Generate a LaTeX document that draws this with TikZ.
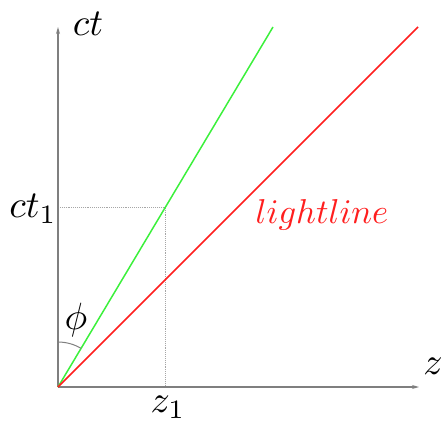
\documentclass[tikz,border=0pt]{standalone}
\usepackage{graphicx}
\usepackage{xcolor}
\usetikzlibrary{arrows.meta,positioning,calc}
\definecolor{axisgray}{HTML}{7F7F7F}
\definecolor{dotgray}{HTML}{A6A6A6}
\definecolor{worldgreen}{HTML}{3CF03C}
\definecolor{lightred}{HTML}{FF1E1E}
\newcommand{\biglbl}[1]{\scalebox{3.8}{$#1$}}
\begin{document}
\begin{tikzpicture}[x=1pt,y=-1pt,lbl/.style={inner sep=0pt},axis/.style={-{Stealth[length=7pt,width=4pt]},draw=axisgray,line width=1.3pt},guide/.style={draw=dotgray,densely dotted,line width=0.9pt}]
\useasboundingbox (0,0) rectangle (441,426);
\coordinate (O) at (58,387);
\coordinate (T) at (58,27);
\coordinate (Zend) at (419,387);
\coordinate (G) at (273,27);
\coordinate (R) at (418,27);
\coordinate (P) at ($(O)!0.5!(G)$);
\coordinate (A) at (O|-P);
\coordinate (B) at (P|-O);
\draw[guide] (A) -- (P) -- (B);
\draw[axis] (O) -- (T);
\draw[axis] (O) -- (Zend);
\draw[worldgreen,line width=1.5pt] (O) -- (G);
\draw[lightred,line width=1.5pt] (O) -- (R);
\draw[axisgray,line width=1pt] ($(O)+(0,-45)$) arc[start angle=-90,end angle=-59.2,radius=45];
\node[lbl] (ct) at (88,24) {\biglbl{ct}};
\node[lbl] (ctone) at (33,209) {\biglbl{ct_1}};
\node[lbl] (z) at (433,366) {\biglbl{z}};
\node[lbl] (zone) at (168,407) {\biglbl{z_1}};
\node[lbl] (phi) at (76,320) {\biglbl{\phi}};
\node[lbl,text=lightred] (light) at (322,215) {\scalebox{3.45}{$lightline$}};
\end{tikzpicture}
\end{document}
